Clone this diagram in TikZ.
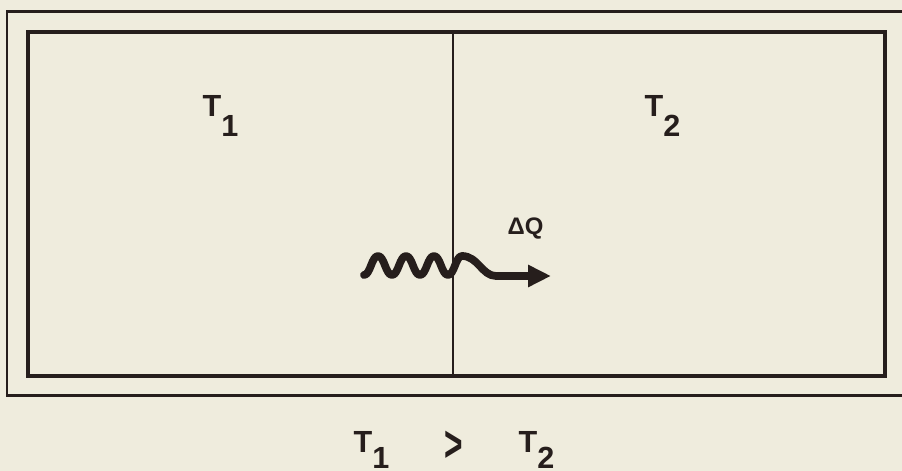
\documentclass[tikz,border=0pt]{standalone}
\usepackage{fontspec}
\setmainfont{Liberation Sans}
\usetikzlibrary{arrows.meta, positioning}
\definecolor{paper}{RGB}{239,236,221}
\definecolor{ink}{RGB}{38,30,28}
\newcommand{\tsub}[1]{T\raisebox{-2mm}{#1}}
\newcommand{\tsublow}[1]{T\raisebox{-1.6mm}{#1}}

\begin{document}
\begin{tikzpicture}[
    x=0.1mm, y=-0.1mm,
    >={Triangle[length=2.3mm, width=2.1mm]},
    wall/.style={draw=ink, line width=1.1pt},
    tlabel/.style={font=\fontsize{8.7}{10}\selectfont\bfseries, text=ink, inner sep=0pt, anchor=base west},
    qlabel/.style={font=\fontsize{6.8}{8}\selectfont\bfseries, text=ink, inner sep=0pt, anchor=base west},
    heat/.style={draw=ink, line width=2.2pt, line cap=round, line join=round},
]
\useasboundingbox[fill=paper] (0,0) rectangle (902,471);

% Outer frame and the two chambers
\draw[wall, line width=0.85pt] (7,12) rectangle (906,396);
\draw[wall] (28,32) rectangle (885,376);
\coordinate (divtop) at (453,32);
\coordinate (divbot) at (453,376);
\draw[wall, line width=0.6pt] (divtop) -- (divbot);

% Temperatures of the chambers
\node[tlabel] (tleft) at (202,117) {\tsub{1}};
\node[tlabel] (tright) at (644,117) {\tsub{2}};

% Heat flow through the wall
\coordinate (wavestart) at (364,275);
\coordinate (waveend) at (496,276);
\coordinate (tip) at (551,276);
\draw[heat, ->] (wavestart)
    .. controls +(6.5,0) and +(-6.5,0) .. ++(14,-19)
    .. controls +(6.5,0) and +(-6.5,0) .. ++(14,19)
    .. controls +(6.5,0) and +(-6.5,0) .. ++(14,-19)
    .. controls +(6.5,0) and +(-6.5,0) .. ++(14,19)
    .. controls +(6.5,0) and +(-6.5,0) .. ++(14,-19)
    .. controls +(6.5,0) and +(-6.5,0) .. ++(14,19)
    .. controls +(6.5,0) and +(-6.5,0) .. ++(14,-19)
    .. controls +(16,0) and +(-14,0) .. (waveend) -- (tip);
\node[qlabel] (dq) at (507,235) {ΔQ};

% Comparison below the box
\node[tlabel] (cmpleft) at (353,453) {\tsublow{1}};
\node[font=\fontsize{12}{14}\selectfont\bfseries, text=ink, inner sep=0pt] (cmpgt) at (454,446) {\scalebox{0.75}[1.2]{>}};
\node[tlabel] (cmpright) at (518,453) {\tsublow{2}};

\end{tikzpicture}
\end{document}
